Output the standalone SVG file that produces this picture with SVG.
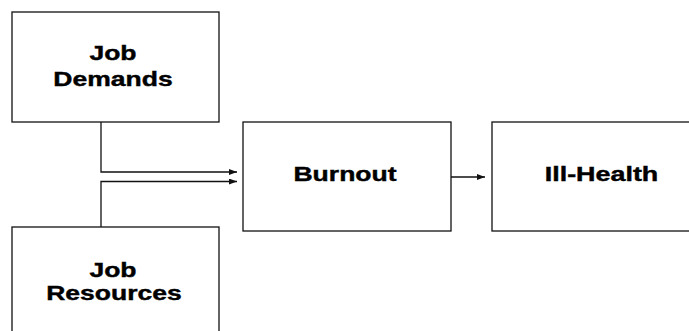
<svg xmlns="http://www.w3.org/2000/svg" width="689" height="331" viewBox="0 0 689 331">
  <style>
    .box { fill: #ffffff; stroke: #111111; stroke-width: 1.3; }
    .label { font-family: "Liberation Sans", Arial, sans-serif; font-weight: bold; font-size: 19.5px; fill: #000000; text-anchor: middle; stroke: #000000; stroke-width: 0.4; }
    .wire { fill: none; stroke: #111111; stroke-width: 1.3; }
  </style>
  <defs>
    <marker id="arrow" viewBox="0 0 8 6" refX="8" refY="3" markerWidth="8" markerHeight="6" markerUnits="userSpaceOnUse" orient="auto">
      <path d="M0,0 L8,3 L0,6 Z" fill="#111111"/>
    </marker>
  </defs>
  <rect width="689" height="331" fill="#ffffff"/>

  <!-- labels are widened horizontally to the wide bold face of the figure -->
  <g id="job-demands">
    <rect class="box" x="12" y="12" width="207" height="110"/>
    <text class="label" transform="translate(113 60) scale(1.36 1)">Job</text>
    <text class="label" transform="translate(113 86) scale(1.36 1)">Demands</text>
  </g>

  <g id="job-resources">
    <rect class="box" x="12" y="227" width="207" height="110"/>
    <text class="label" transform="translate(113 277) scale(1.36 1)">Job</text>
    <text class="label" transform="translate(114 300) scale(1.36 1)">Resources</text>
  </g>

  <g id="burnout">
    <rect class="box" x="243" y="122" width="208" height="109"/>
    <text class="label" transform="translate(345 181) scale(1.36 1)">Burnout</text>
  </g>

  <g id="ill-health">
    <rect class="box" x="492" y="122" width="205" height="109"/>
    <text class="label" transform="translate(601.5 181) scale(1.38 1)">Ill-Health</text>
  </g>

  <g id="connectors">
    <path class="wire" d="M101,122 V172 H237" marker-end="url(#arrow)"/>
    <path class="wire" d="M101,227 V181.5 H237" marker-end="url(#arrow)"/>
    <path class="wire" d="M451,177 H485" marker-end="url(#arrow)"/>
  </g>
</svg>
